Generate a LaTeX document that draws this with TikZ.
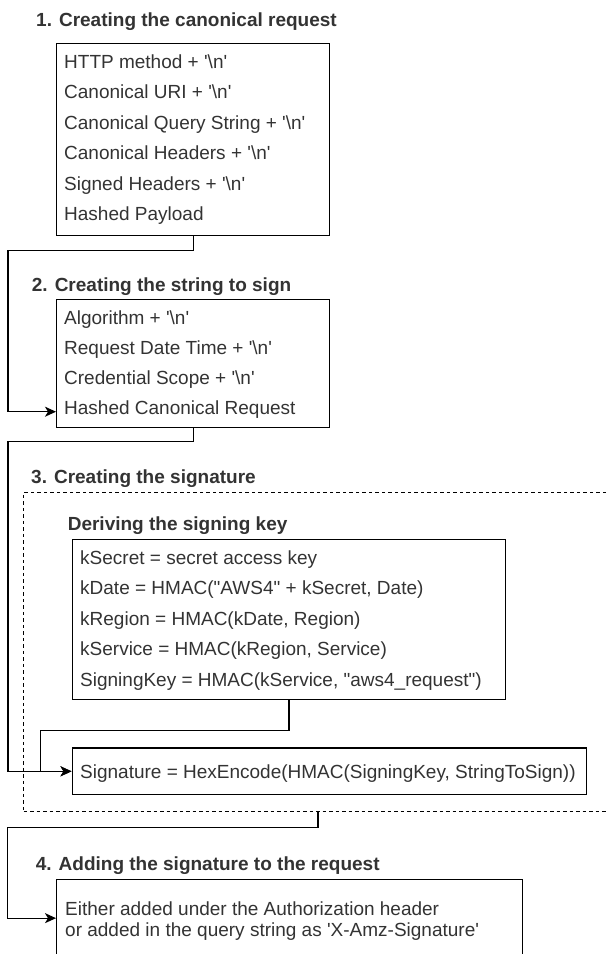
\documentclass[tikz,border=0pt]{standalone}
\usepackage{fontspec}
\setmainfont{Liberation Sans}
\usetikzlibrary{arrows.meta,calc}
\definecolor{textc}{HTML}{333333}
\newcommand{\nlq}{\textquotesingle\textbackslash n\textquotesingle}
\tikzset{
  box/.style={draw=black, line width=1.3pt, inner sep=0pt, anchor=north west},
  grpbox/.style={draw=black, line width=1.1pt, dash pattern=on 3.5pt off 3pt, inner sep=0pt, anchor=north west},
  txt/.style={anchor=base west, inner sep=0pt, text=textc, font=\fontsize{19}{23}\selectfont},
  ttl/.style={anchor=base west, inner sep=0pt, text=textc, font=\fontsize{19}{23}\selectfont\bfseries},
  conn/.style={line width=1.3pt, draw=black},
  arr/.style={conn, -{Stealth[length=11pt,width=10pt,inset=3pt]}},
}
\begin{document}
\begin{tikzpicture}[x=1pt,y=-1pt]
\useasboundingbox (0,0) rectangle (606,954);
\clip (0,0) rectangle (606,954);

% ---- 1 ----
\node[ttl] (t1) at (36,26.5) {1. Creating the canonical request};
\node[box, minimum width=273pt, minimum height=192pt] (b1) at (56,42.7) {};
\node[txt] (l11) at (64,68.5) {HTTP method + \nlq};
\node[txt] (l12) at (64,98.9) {Canonical URI + \nlq};
\node[txt] (l13) at (64,129.3) {Canonical Query String + \nlq};
\node[txt] (l14) at (64,159.7) {Canonical Headers + \nlq};
\node[txt] (l15) at (64,190.1) {Signed Headers + \nlq};
\node[txt] (l16) at (64,220.5) {Hashed Payload};

% ---- 2 ----
\node[ttl] (t2) at (31.7,291) {2. Creating the string to sign};
\node[box, minimum width=273pt, minimum height=127.7pt] (b2) at (56,299) {};
\node[txt] (l21) at (64,324.3) {Algorithm + \nlq};
\node[txt] (l22) at (64,354.5) {Request Date Time + \nlq};
\node[txt] (l23) at (64,384.7) {Credential Scope + \nlq};
\node[txt] (l24) at (64,414.9) {Hashed Canonical Request};

% ---- 3 ----
\node[ttl] (t3) at (31,483) {3. Creating the signature};
\node[grpbox, minimum width=590pt, minimum height=319pt] (grp) at (23,491.7) {};
\node[ttl] (t3b) at (67.6,530.7) {Deriving the signing key};
\node[box, minimum width=433.5pt, minimum height=160pt] (b3) at (71.5,539) {};
\node[txt] (l31) at (80,564.3) {kSecret = secret access key};
\node[txt] (l32) at (80,594.8) {kDate = HMAC(\textquotedbl AWS4\textquotedbl\ + kSecret, Date)};
\node[txt] (l33) at (80,625.3) {kRegion = HMAC(kDate, Region)};
\node[txt] (l34) at (80,655.8) {kService = HMAC(kRegion, Service)};
\node[txt] (l35) at (80,686.3) {SigningKey = HMAC(kService, \textquotedbl aws4\_request\textquotedbl)};
\node[box, minimum width=514pt, minimum height=46.7pt] (sig) at (71.5,747.3) {};
\node[txt] (ls) at (80,778.3) {Signature = HexEncode(HMAC(SigningKey, StringToSign))};

% ---- 4 ----
\node[ttl] (t4) at (35.6,870) {4. Adding the signature to the request};
\node[box, minimum width=466pt, minimum height=77pt] (b4) at (56,879) {};
\node[txt] (l41) at (65,915) {Either added under the Authorization header};
\node[txt] (l42) at (65,936) {or added in the query string as \textquotesingle X-Amz-Signature\textquotesingle};

% ---- connectors ----
\coordinate (k1) at (8,250.7);
\coordinate (p2) at (0,411.7);
\coordinate (k2) at (8,441.7);
\coordinate (k3) at (40.6,730.7);
\coordinate (g4) at ($(grp.south west)+(295,0)$);
\coordinate (k4) at (7.7,827.3);

\draw[arr] (b1.south) |- (k1) |- (b2.west |- p2);
\draw[arr] (b2.south) |- (k2) |- (sig.west);
\draw[arr] (b3.south) |- (k3) |- (sig.west);
\draw[arr] (g4) |- (k4) |- (b4.west);
\end{tikzpicture}
\end{document}
